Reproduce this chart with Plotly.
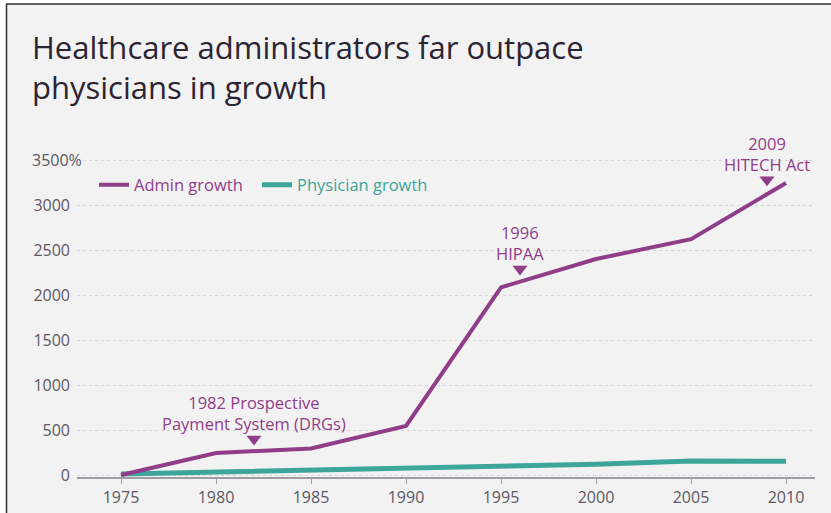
import plotly.graph_objects as go

years = [1975, 1980, 1985, 1990, 1995, 2000, 2005, 2010]
admin_growth = [0, 245, 295, 545, 2085, 2400, 2620, 3245]
physician_growth = [10, 32, 52, 70, 100, 120, 155, 152]

event_years = [1982, 1996, 2009]
event_marker_vals = [400, 2290, 3280]
event_labels = ["1982 Prospective<br>Payment System (DRGs)", "1996<br>HIPAA", "2009<br>HITECH Act"]

title_text = "Healthcare administrators far outpace<br>physicians in growth"

y_tick_vals = [0, 500, 1000, 1500, 2000, 2500, 3000, 3500]
y_tick_text = ["0", "500", "1000", "1500", "2000", "2500", "3000", "3500%"]
x_tick_vals = years
x_tick_text = [str(y) for y in years]

PURPLE = "#8f3d88"
TEAL = "#3ea59b"
GRAY_TXT = "#5d5862"
FONT = "Open Sans"

W, H = 831, 513
L, R, T, B = 77, 815, 140, 480
PW, PH = R - L, B - T

def px_x(px):
    return (px - L) / PW

def px_y(py):
    return (B - py) / PH

xpx = (786 - 121) / 35.0
xr = [1975 - (121 - L) / xpx, 2010 + (R - 786) / xpx]
ypx = 315 / 3500.0
yr = [-(B - 475) / ypx, (475 - T) / ypx]

fig = go.Figure()
fig.add_trace(go.Scatter(
    x=years, y=physician_growth, mode="lines",
    line=dict(color=TEAL, width=5),
    name=f"<span style='color:{TEAL}'>Physician growth</span>",
    legend="legend2", hoverinfo="skip"))
fig.add_trace(go.Scatter(
    x=years, y=admin_growth, mode="lines",
    line=dict(color=PURPLE, width=4),
    name=f"<span style='color:{PURPLE}'>Admin growth</span>",
    legend="legend", hoverinfo="skip"))
fig.add_trace(go.Scatter(
    x=event_years, y=event_marker_vals, mode="markers",
    marker=dict(symbol="triangle-down", size=13, color=PURPLE),
    showlegend=False, hoverinfo="skip", cliponaxis=False))

for ex, ev, lab in zip(event_years, event_marker_vals, event_labels):
    fig.add_annotation(x=ex, y=ev, text=lab, showarrow=False,
                       xanchor="center", yanchor="bottom", yshift=2,
                       font=dict(family=FONT, size=16.5, color=PURPLE), align="center")

fig.add_annotation(xref="paper", yref="paper", x=px_x(30), y=px_y(67),
                   text=title_text, showarrow=False, xanchor="left", yanchor="middle",
                   align="left", font=dict(family=FONT, size=31, color="#2b2433"))

fig.add_annotation(xref="paper", yref="y", x=px_x(30), y=y_tick_vals[-1],
                   text=y_tick_text[-1], showarrow=False, xanchor="left",
                   yanchor="middle", bgcolor="#f2f2f2", borderpad=1,
                   font=dict(family=FONT, size=16, color=GRAY_TXT))

shapes = [
    dict(type="rect", xref="paper", yref="paper", x0=px_x(7), x1=px_x(W + 20),
         y0=px_y(4), y1=px_y(H + 20), fillcolor="#f2f2f2", line_width=0, layer="below"),
    dict(type="line", xref="paper", yref="paper", x0=px_x(6), x1=px_x(W + 20),
         y0=px_y(4), y1=px_y(4), line=dict(color="#2e2e2e", width=1.5)),
    dict(type="line", xref="paper", yref="paper", x0=px_x(6.5), x1=px_x(6.5),
         y0=px_y(4), y1=px_y(H + 20), line=dict(color="#2e2e2e", width=1.5)),
]

legend_common = dict(orientation="h", xanchor="left", yanchor="middle",
                     bgcolor="rgba(0,0,0,0)", font=dict(family=FONT, size=16.5),
                     itemclick=False, itemdoubleclick=False)

fig.update_layout(
    width=W, height=H,
    margin=dict(l=L, r=W - R, t=T, b=H - B, pad=0, autoexpand=False),
    paper_bgcolor="white",
    plot_bgcolor="rgba(0,0,0,0)",
    shapes=shapes,
    showlegend=True,
    legend=dict(x=px_x(94), y=px_y(185), **legend_common),
    legend2=dict(x=px_x(257), y=px_y(185), **legend_common),
    xaxis=dict(range=xr, tickvals=x_tick_vals, ticktext=x_tick_text,
               showgrid=False, zeroline=False, showline=True, linecolor="#a09ca3",
               linewidth=1.5, ticks="outside", ticklen=6, tickwidth=1.2, tickcolor="#a09ca3",
               anchor="free", position=px_y(477.5), ticklabelstandoff=0, automargin=False,
               tickfont=dict(family=FONT, size=16, color=GRAY_TXT), fixedrange=True),
    yaxis=dict(range=yr, tickvals=y_tick_vals,
               ticktext=y_tick_text[:-1] + [""], automargin=False,
               showgrid=True, gridcolor="#d6d4d8", griddash="dot", gridwidth=1,
               zeroline=False, showline=False, ticks="", ticklabelstandoff=6,
               tickfont=dict(family=FONT, size=16, color=GRAY_TXT), fixedrange=True),
)

fig.write_html("out.html")
